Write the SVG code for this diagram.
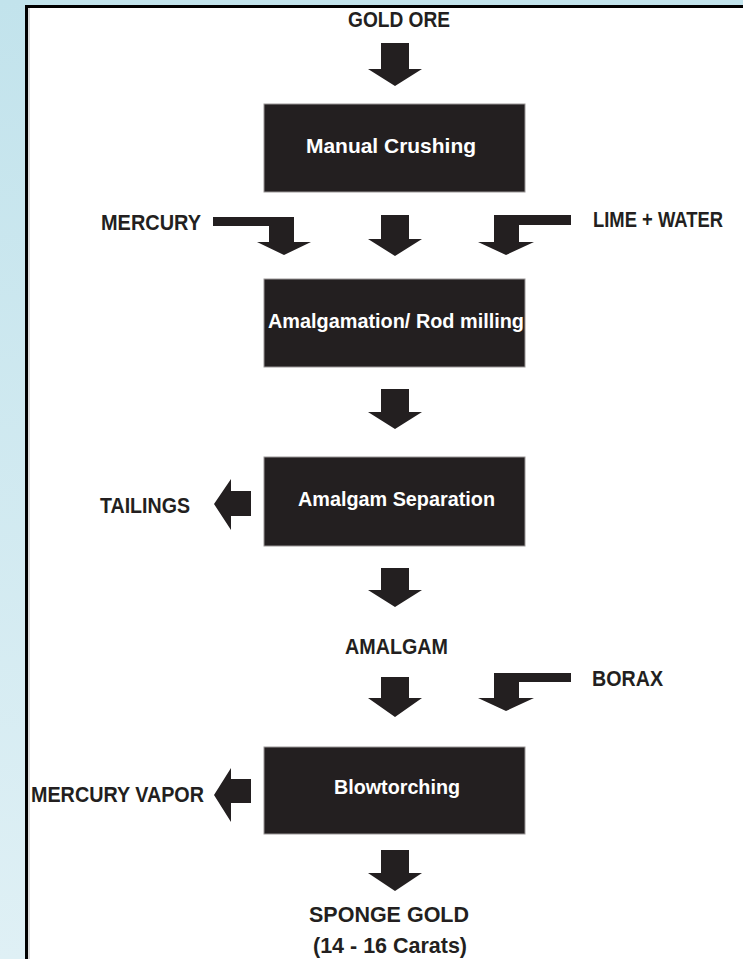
<svg xmlns="http://www.w3.org/2000/svg" width="743" height="959" viewBox="0 0 743 959">
<defs>
<linearGradient id="bg" x1="0" y1="0" x2="0" y2="1">
<stop offset="0" stop-color="#c2e3ec"/>
<stop offset="1" stop-color="#dff0f5"/>
</linearGradient>
<style>
.box{fill:#231f20;stroke:#9a9696;stroke-width:1}
.arr{fill:#231f20}
.lbl{font-family:"Liberation Sans Narrow","Liberation Sans",Arial,sans-serif;font-weight:bold;font-size:21.5px;fill:#231f20}
.in{font-family:"Liberation Sans Narrow","Liberation Sans",Arial,sans-serif;font-weight:bold;font-size:21px;fill:#ffffff}
</style>
</defs>
<rect x="0" y="0" width="743" height="959" fill="url(#bg)"/>
<rect x="26.5" y="6.5" width="740" height="970" fill="#ffffff" stroke="#000000" stroke-width="3"/>
<line x1="29" y1="8" x2="29" y2="959" stroke="#b8b8b8" stroke-width="1"/>

<g id="connectors">
<path class="arr" d="M381,43 H409 V69 H422 L395,86 L368,69 H381 Z"/>
<path class="arr" d="M381,215 H409 V239 H422 L395,256 L368,239 H381 Z"/>
<path class="arr" d="M381,389 H409 V412 H422 L395,429 L368,412 H381 Z"/>
<path class="arr" d="M381,568 H409 V590 H422 L395,607 L368,590 H381 Z"/>
<path class="arr" d="M381,677 H409 V698 H422 L395,717 L368,698 H381 Z"/>
<path class="arr" d="M381,850 H409 V873 H422 L395,891 L368,873 H381 Z"/>
<path class="arr" d="M213,217 H294 V242 H311 L284,255 L257,242 H269 V226 H213 Z"/>
<path class="arr" d="M571,215 H494 V242 H478 L506,255 L534,242 H519 V225 H571 Z"/>
<path class="arr" d="M571,673 H494 V698 H478 L506,711 L534,698 H519 V682 H571 Z"/>
<path class="arr" d="M251,491 V516 H231 V530 L214,504 L231,479 V491 Z"/>
<path class="arr" d="M251,779 V803 H231 V822 L214,795 L231,768 V779 Z"/>
</g>

<g id="gold-ore"><text class="lbl" x="348" y="27" textLength="102" lengthAdjust="spacingAndGlyphs">GOLD ORE</text></g>

<g id="manual-crushing">
<rect class="box" x="264" y="104" width="261" height="88"/>
<text class="in" x="306" y="153" textLength="170" lengthAdjust="spacingAndGlyphs">Manual Crushing</text>
</g>

<g id="mercury"><text class="lbl" x="101" y="230" textLength="100" lengthAdjust="spacingAndGlyphs">MERCURY</text></g>
<g id="lime-water"><text class="lbl" x="593" y="227" textLength="130" lengthAdjust="spacingAndGlyphs">LIME + WATER</text></g>

<g id="amalgamation">
<rect class="box" x="264" y="279" width="261" height="88"/>
<text class="in" x="268" y="328" textLength="256" lengthAdjust="spacingAndGlyphs">Amalgamation/ Rod milling</text>
</g>

<g id="amalgam-separation">
<rect class="box" x="264" y="457" width="261" height="89"/>
<text class="in" x="298" y="506" textLength="197" lengthAdjust="spacingAndGlyphs">Amalgam Separation</text>
</g>

<g id="tailings"><text class="lbl" x="100" y="513" textLength="90" lengthAdjust="spacingAndGlyphs">TAILINGS</text></g>

<g id="amalgam"><text class="lbl" x="345" y="654" textLength="103" lengthAdjust="spacingAndGlyphs">AMALGAM</text></g>
<g id="borax"><text class="lbl" x="592" y="686" textLength="71" lengthAdjust="spacingAndGlyphs">BORAX</text></g>

<g id="blowtorching">
<rect class="box" x="264" y="747" width="261" height="87"/>
<text class="in" x="334" y="794" textLength="126" lengthAdjust="spacingAndGlyphs">Blowtorching</text>
</g>

<g id="mercury-vapor"><text class="lbl" x="31" y="802" textLength="173" lengthAdjust="spacingAndGlyphs">MERCURY VAPOR</text></g>

<g id="sponge-gold">
<text class="lbl" x="309" y="922" textLength="160" lengthAdjust="spacingAndGlyphs">SPONGE GOLD</text>
<text class="lbl" x="313" y="953" textLength="154" lengthAdjust="spacingAndGlyphs">(14 - 16  Carats)</text>
</g>
</svg>
